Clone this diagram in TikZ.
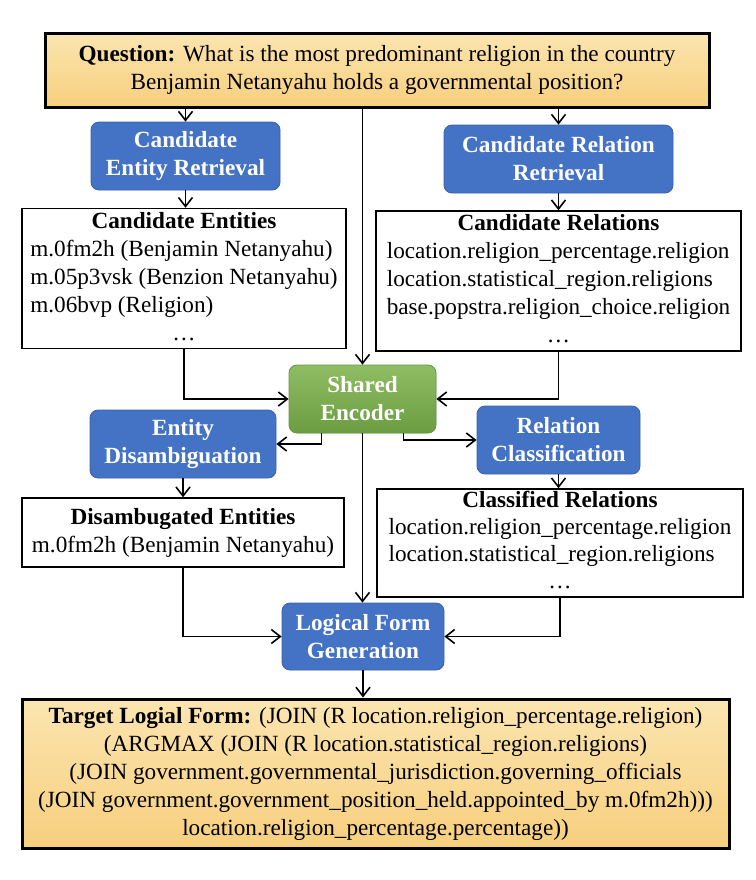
\documentclass[tikz,border=0pt]{standalone}
\usepackage{fontspec}
\setmainfont{Liberation Serif}
\usepackage{xcolor}
\usepackage{tikz}
\usetikzlibrary{arrows.meta, positioning, calc}
\definecolor{stageblue}{RGB}{68,114,196}
\definecolor{stageedge}{RGB}{58,98,172}
\definecolor{enctop}{RGB}{143,189,100}
\definecolor{encbot}{RGB}{108,156,66}
\definecolor{encedge}{RGB}{104,150,66}
\definecolor{iotop}{RGB}{251,229,176}
\definecolor{iobot}{RGB}{247,207,126}
\newcommand{\listhead}[1]{\multicolumn{1}{@{}c@{}}{\textbf{#1}}}
\newcommand{\listmore}{\multicolumn{1}{@{}c@{}}{\ldots}}

\begin{document}
\begin{tikzpicture}[
  x=0.5pt, y=-0.5pt,
  font=\fontsize{11.6}{14}\selectfont,
  stage/.style={rounded corners=4pt, draw=stageedge, fill=stageblue, text=white, font=\fontsize{11.6}{14}\selectfont\bfseries, align=center, minimum height=34pt, inner sep=1pt},
  encoder/.style={stage, draw=encedge, top color=enctop, bottom color=encbot},
  listbox/.style={draw, line width=0.75pt, fill=white, inner sep=0pt},
  io/.style={draw, line width=1.5pt, top color=iotop, bottom color=iobot, align=center, inner sep=0pt},
  flow/.style={line width=0.8pt, -{Straight Barb[length=4.5pt, width=7pt]}}
]
  \useasboundingbox (0,0) rectangle (756,880);

  % input question
  \node[io, minimum width=332pt, minimum height=37pt] (q) at (377,70)
    {\textbf{Question:} What is the most predominant religion in the country\\
     Benjamin Netanyahu holds a governmental position?};

  % retrieval
  \node[stage, minimum width=94.5pt] (cer) at (185.5,156) {Candidate\\Entity Retrieval};
  \node[stage, minimum width=114.5pt] (crr) at (558.5,159) {Candidate Relation\\Retrieval};

  \node[listbox, minimum width=162pt, minimum height=68.5pt] (ce) at (184,278.5)
    {\begin{tabular}{@{}l@{}}
      \listhead{Candidate Entities}\\
      m.0fm2h (Benjamin Netanyahu)\\
      m.05p3vsk (Benzion Netanyahu)\\
      m.06bvp (Religion)\\
      \listmore
    \end{tabular}};
  \node[listbox, minimum width=182.5pt, minimum height=66pt] (cr) at (558.5,281)
    {\begin{tabular}{@{}l@{}}
      \listhead{Candidate Relations}\\
      location.religion\_percentage.religion\\
      location.statistical\_region.religions\\
      base.popstra.religion\_choice.religion\\
      \listmore
    \end{tabular}};

  % encoder and heads
  \node[encoder, minimum width=73.5pt] (se) at (362.5,399) {Shared\\Encoder};
  \node[stage, minimum width=93pt] (ed) at (183,444) {Entity\\Disambiguation};
  \node[stage, minimum width=81.5pt] (rc) at (558.5,440) {Relation\\Classification};

  \node[listbox, minimum width=161pt, minimum height=34.5pt] (de) at (183,532.5)
    {\begin{tabular}{@{}l@{}}
      \listhead{Disambugated Entities}\\
      m.0fm2h (Benjamin Netanyahu)
    \end{tabular}};
  \node[listbox, minimum width=183pt, minimum height=54pt, font=\fontsize{11.6}{13.5}\selectfont] (cl) at (560,543)
    {\begin{tabular}{@{}l@{}}
      \listhead{Classified Relations}\\
      location.religion\_percentage.religion\\
      location.statistical\_region.religions\\
      \listmore
    \end{tabular}};

  \node[stage, minimum width=81pt, minimum height=33.5pt] (lfg) at (363,636.5) {Logical Form\\Generation};

  % output
  \node[io, minimum width=353.5pt, minimum height=74.5pt] (tg) at (375.5,773.5)
    {\textbf{Target Logial Form:} (JOIN (R location.religion\_percentage.religion)\\
     (ARGMAX (JOIN (R location.statistical\_region.religions)\\
     (JOIN government.governmental\_jurisdiction.governing\_officials\\
     (JOIN government.government\_position\_held.appointed\_by m.0fm2h)))\\
     location.religion\_percentage.percentage))};

  \draw[flow] (q.south -| cer.north) -- (cer.north);
  \draw[flow] (q.south -| crr.north) -- (crr.north);
  \draw[flow] (q.south -| se.north) -- (se.north);
  \draw[flow] (cer.south) -- (cer.south |- ce.north);
  \draw[flow] (crr.south) -- (crr.south |- cr.north);
  \draw[flow] (ce.south) |- (se.west);
  \draw[flow] (cr.south) |- (se.east);
  \draw[flow] ([xshift=-20.5pt]se.south) |- (ed.east);
  \draw[flow] ([xshift=20.5pt]se.south) |- (rc.west);
  \draw[flow] (se.south) -- (se.south |- lfg.north);
  \draw[flow] (ed.south) -- (ed.south |- de.north);
  \draw[flow] (rc.south) -- (rc.south |- cl.north);
  \draw[flow] (de.south) |- (lfg.west);
  \draw[flow] (cl.south) |- (lfg.east);
  \draw[flow] (lfg.south) -- (lfg.south |- tg.north);
\end{tikzpicture}
\end{document}
